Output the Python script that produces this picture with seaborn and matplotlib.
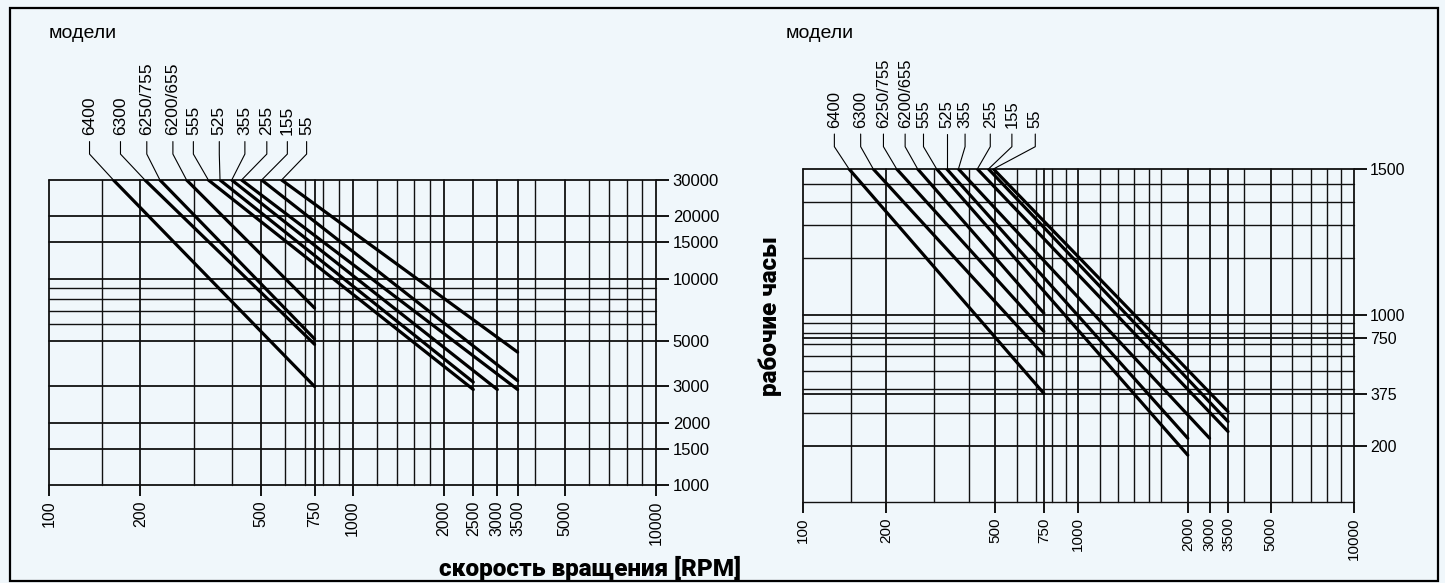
"""
plot.py - Bearing life nomograms: operating hours vs rotation speed per model.
"""

import pandas as pd
import matplotlib
matplotlib.use('Agg')
import matplotlib.pyplot as plt
import matplotlib.transforms as mtransforms
from matplotlib.patches import Rectangle
from matplotlib.ticker import NullLocator
import seaborn as sns

# ─────────────────────────────────────────────
# Data
# ─────────────────────────────────────────────

models = ['6400', '6300', '6250/755', '6200/655', '555', '525', '355', '255', '155', '55']

# left panel: every line starts on the 30000 h border
left_top_hours = 30000
left_start_rpm = [163, 207, 232, 284, 335, 366, 400, 431, 502, 584]
left_end_rpm   = [750, 750, 750, 750, 2500, 2500, 3000, 3500, 3500, 3500]
left_end_hours = [3000, 4800, 5100, 7200, 2900, 3150, 2900, 2900, 3200, 4400]

# right panel: every line starts on the top border
right_top_hours = 6000
right_start_rpm = [147, 180, 219, 261, 306, 333, 367, 430, 472, 492]
right_end_rpm   = [750, 750, 750, 750, 2500, 2500, 3000, 3500, 3500, 3500]
right_end_hours = [380, 610, 815, 1020, 178, 219, 219, 238, 269, 304]

rpm_grid = [100, 150, 200, 300, 400, 500, 600, 700, 750, 800, 900, 1000,
            1200, 1400, 1600, 1800, 2000, 2500, 3000, 3500, 4000,
            5000, 6000, 7000, 8000, 9000, 10000]
left_hours_grid = [1000, 1500, 2000, 3000, 5000, 6000, 7000, 8000, 9000,
                   10000, 15000, 20000, 30000]
right_hours_grid = [100, 200, 300, 375, 400, 500, 600, 700, 750, 800, 900,
                    1000, 2000, 3000, 4000, 5000, 6000]

left_xticks = [100, 200, 500, 750, 1000, 2000, 2500, 3000, 3500, 5000, 10000]
left_xticklabels = ['100', '200', '500', '750', '1000', '2000', '2500',
                    '3000', '3500', '5000', '10000']
left_yticks = [1000, 1500, 2000, 3000, 5000, 10000, 15000, 20000, 30000]
left_yticklabels = ['1000', '1500', '2000', '3000', '5000', '10000',
                    '15000', '20000', '30000']

right_xticks = [100, 200, 500, 750, 1000, 2500, 3000, 3500, 5000, 10000]
right_xticklabels = ['100', '200', '500', '750', '1000', '2000', '3000',
                     '3500', '5000', '10000']
right_yticks = [200, 375, 750, 1000, 6000]
right_yticklabels = ['200', '375', '750', '1000', '1500']

# where the model names sit (rpm above the panel)
left_label_rpm  = [136, 172, 210, 256, 299, 364, 442, 522, 610, 706]
right_label_rpm = [130, 162, 196, 235, 274, 333, 388, 479, 574, 698]

BG = '#F0F7FB'
W, H = 1445, 583


def px_rect(x0, y0, x1, y1):
    return [x0 / W, 1 - y1 / H, (x1 - x0) / W, (y1 - y0) / H]


def build_frame(top_hours, start_rpm, end_rpm, end_hours):
    rows = []
    for m, s, e, h in zip(models, start_rpm, end_rpm, end_hours):
        rows.append({'model': m, 'rpm': s, 'hours': top_hours})
        rows.append({'model': m, 'rpm': e, 'hours': h})
    return pd.DataFrame(rows)


def draw_panel(ax, df, hours_grid, xticks, xticklabels, yticks, yticklabels,
               label_rpm, start_rpm, lead, xfs, yfs, name_fs):
    ax.set_facecolor('none')
    ax.set_xscale('log')
    ax.set_yscale('log')
    ax.set_xlim(rpm_grid[0], rpm_grid[-1])
    ax.set_ylim(hours_grid[0], hours_grid[-1])

    for v in rpm_grid:
        lw = 1.3 if v in xticks else 1.0
        ax.axvline(v, color='#111111', lw=lw, clip_on=False, zorder=1)
    for v in hours_grid:
        lw = 1.3 if v in yticks else 1.0
        ax.axhline(v, color='#111111', lw=lw, clip_on=False, zorder=1)

    sns.lineplot(data=df, x='rpm', y='hours', units='model', estimator=None,
                 color='black', lw=2.3, ax=ax, legend=False, zorder=3)
    ax.set_xlabel('')
    ax.set_ylabel('')

    for sp in ax.spines.values():
        sp.set_visible(False)

    ax.xaxis.set_minor_locator(NullLocator())
    ax.yaxis.set_minor_locator(NullLocator())
    ax.set_xticks(xticks, labels=xticklabels)
    ax.set_yticks(yticks, labels=yticklabels)
    ax.yaxis.tick_right()
    ax.tick_params(axis='x', bottom=True, top=False, length=8, width=1.3,
                   color='black', pad=3, labelsize=xfs, labelrotation=90,
                   labelcolor='black')
    ax.tick_params(axis='y', right=True, left=False, length=9, width=1.3,
                   color='black', pad=3, labelsize=yfs, labelcolor='black')

    # leader lines from the model names to the start of each line
    trans = mtransforms.blended_transform_factory(ax.transData, ax.transAxes)
    corner, lead_top, text_y = lead
    for name, lx, sx in zip(models, label_rpm, start_rpm):
        ax.plot([sx, lx, lx], [1.0, corner, lead_top], transform=trans,
                color='black', lw=0.8, clip_on=False, zorder=2)
        ax.text(lx, text_y, name, transform=trans, rotation=90,
                ha='center', va='bottom', fontsize=name_fs, color='black')


# ─────────────────────────────────────────────
# Figure
# ─────────────────────────────────────────────

sns.set_theme(style='white')
plt.rcParams['font.family'] = ['Liberation Sans', 'DejaVu Sans']
plt.rcParams['text.color'] = 'black'

fig = plt.figure(figsize=(W / 100, H / 100), dpi=100, facecolor=BG)

ax_l = fig.add_axes(px_rect(49, 180, 656, 485))
ax_r = fig.add_axes(px_rect(803, 169, 1353.5, 502))

df_left = build_frame(left_top_hours, left_start_rpm, left_end_rpm, left_end_hours)
df_right = build_frame(right_top_hours, right_start_rpm, right_end_rpm, right_end_hours)

draw_panel(ax_l, df_left, left_hours_grid, left_xticks, left_xticklabels,
           left_yticks, left_yticklabels, left_label_rpm, left_start_rpm,
           (1.085, 1.126, 1.148), 11.5, 12, 12.5)
draw_panel(ax_r, df_right, right_hours_grid, right_xticks, right_xticklabels,
           right_yticks, right_yticklabels, right_label_rpm, right_start_rpm,
           (1.067, 1.105, 1.122), 11, 11.5, 12)

fig.text(49 / W, 1 - 38 / H, 'модели', fontsize=14, ha='left', va='baseline')
fig.text(786 / W, 1 - 38 / H, 'модели', fontsize=14, ha='left', va='baseline')

title_font = ['Roboto', 'DejaVu Sans']
fig.text(590 / W, 1 - 568 / H, 'скорость вращения [RPM]', family=title_font,
         fontsize=17.5, fontweight='black', ha='center', va='center')
fig.text(770 / W, 1 - 316 / H, 'рабочие часы', family=title_font,
         fontsize=17.5, fontweight='black', rotation=90, ha='center', va='center')

fig.patches.append(Rectangle((10 / W, 2 / H), 1428 / W, 573 / H,
                             transform=fig.transFigure, fill=False,
                             edgecolor='black', lw=1.6))

fig.savefig('out.png', dpi=100, facecolor=BG)
plt.close(fig)
